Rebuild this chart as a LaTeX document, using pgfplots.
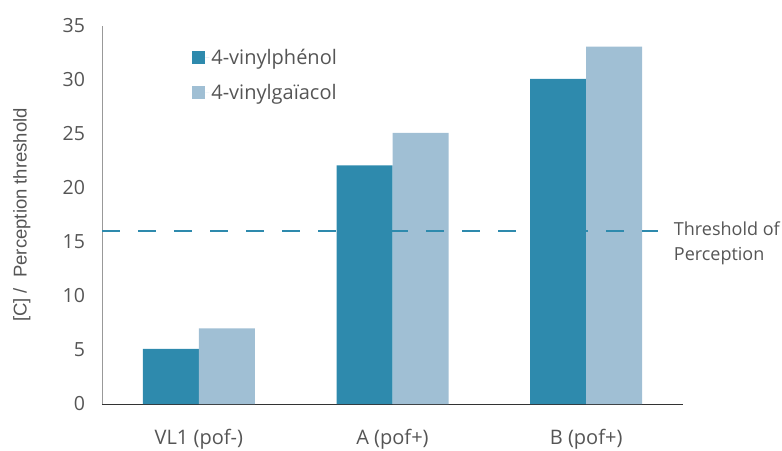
\documentclass[border=0pt]{standalone}
\usepackage{pgfplots}
\usepackage{fontspec}
\setmainfont{Open Sans}
\newfontfamily\arialfont{Liberation Sans}
\pgfplotsset{compat=1.18}
\definecolor{darkbar}{HTML}{2E8AAD}
\definecolor{lightbar}{HTML}{A0BFD4}
\definecolor{txt}{HTML}{555555}

\begin{document}
\begin{tikzpicture}
\useasboundingbox (-102pt,-46pt) rectangle (680pt,404pt);
\begin{axis}[
    at={(0,0)}, anchor=south west,
    scale only axis,
    width=581pt, height=378pt,
    ybar=0pt, bar width=56pt,
    xmin=-0.5, xmax=2.5,
    ymin=0, ymax=35,
    ytick={0,5,...,35},
    xtick={0,1,2},
    xticklabels={VL1 (pof-), A (pof+), B (pof+)},
    extra x ticks={-0.5,0.5,1.5,2.5},
    extra x tick labels={},
    extra x tick style={major tick length=9pt, tick align=outside, tick style={draw=black!80, line width=0.8pt}},
    xtick style={draw=none},
    ytick style={draw=none},
    axis x line*=bottom,
    axis y line*=left,
    x axis line style={draw=black!80, line width=0.8pt},
    y axis line style={draw=black!40, line width=0.8pt},
    yticklabel style={font=\fontsize{19.5}{22}\selectfont, text=txt, anchor=east, xshift=-13.5pt},
    xticklabel style={font=\fontsize{20}{22}\selectfont, text=txt, anchor=center, yshift=-31pt},
    /pgf/number format/assume math mode=true,
    ylabel={[C] /\ \ Perception threshold},
    ylabel style={at={(axis description cs:-0.138,0.5)}, anchor=center, font=\arialfont\fontsize{18.5}{20}\selectfont, text=txt},
    legend style={draw=none, fill=none, at={(0.15,0.951)}, anchor=north west,
        font=\fontsize{20}{22}\selectfont, text=txt, row sep=14.5pt},
    legend cell align=left,
    legend image code/.code={\fill[#1, draw=none] (0pt,-6.5pt) rectangle (13pt,6.5pt); \path (13pt,0pt) -- (17pt,0pt);},
    clip=false,
]
\addplot[fill=darkbar, draw=none] coordinates {(0,5.1) (1,22.1) (2,30.1)};
\addplot[fill=lightbar, draw=none] coordinates {(0,7.0) (1,25.1) (2,33.1)};
\legend{4-vinylphénol, 4-vinylgaïacol}
\addplot[sharp plot, color=darkbar, line width=2.5pt, dash pattern=on 18pt off 18pt, forget plot] coordinates {(-0.5,16) (2.371,16)};
\node[anchor=west, align=left, text=txt, font=\fontsize{18}{25}\selectfont] at (axis cs:2.435,14.9) {Threshold of\\Perception};
\end{axis}
\end{tikzpicture}
\end{document}
